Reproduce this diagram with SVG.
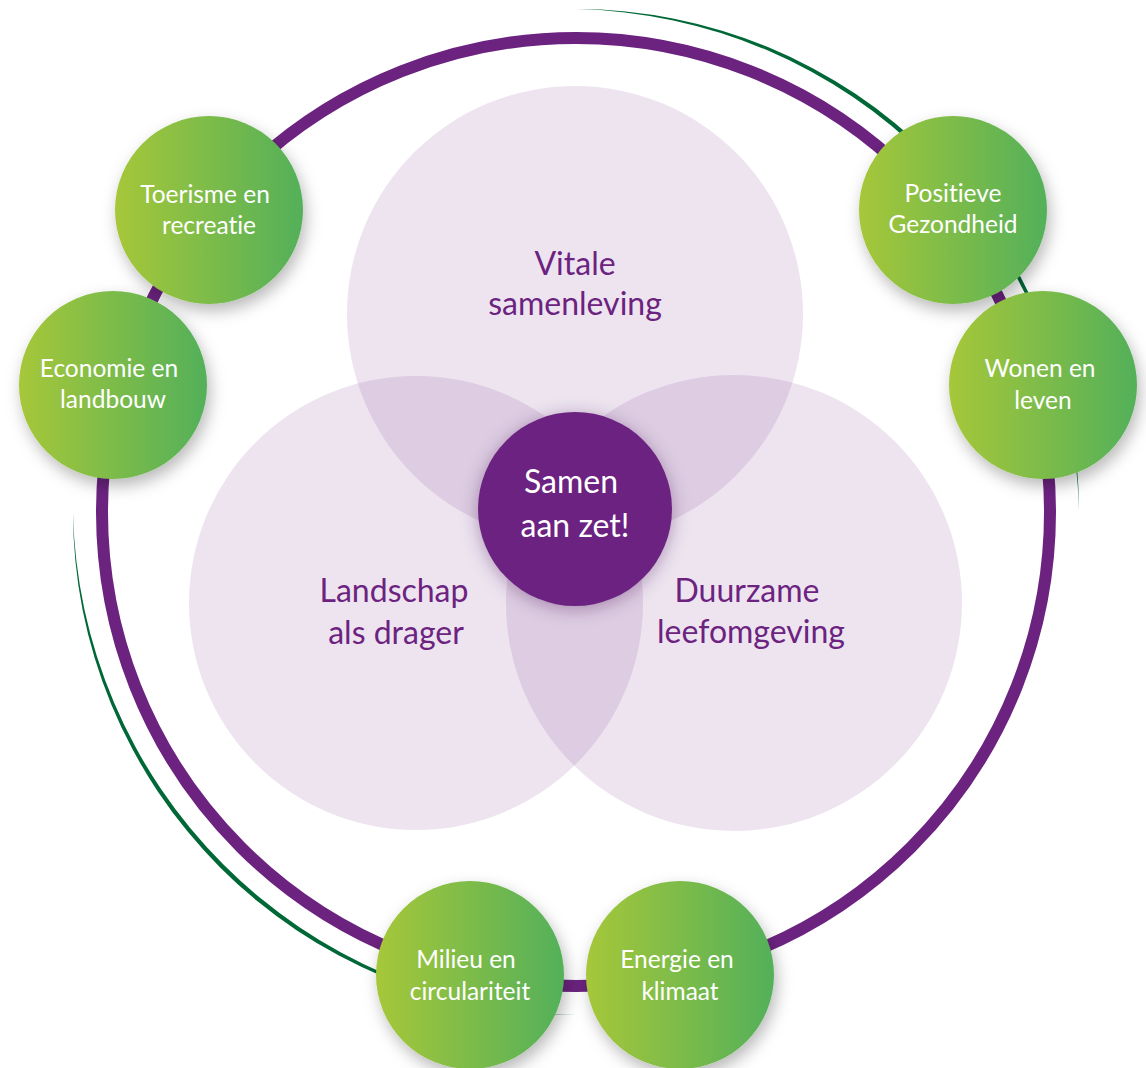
<svg xmlns="http://www.w3.org/2000/svg" width="1146" height="1068" viewBox="0 0 1146 1068">
<defs>
<linearGradient id="g" x1="0" y1="0" x2="1" y2="0">
<stop offset="0" stop-color="#A6C739"/>
<stop offset="1" stop-color="#53B05A"/>
</linearGradient>
<filter id="sh" x="-30%" y="-30%" width="160%" height="170%">
<feDropShadow dx="3" dy="7" stdDeviation="8" flood-color="#000" flood-opacity="0.28"/>
</filter>
<filter id="shc" x="-30%" y="-30%" width="160%" height="160%">
<feDropShadow dx="0" dy="3" stdDeviation="9" flood-color="#3a0f4a" flood-opacity="0.35"/>
</filter>
<style>
.ring{fill:none;stroke:#6C2380;stroke-width:12}
.arc{fill:#006837}
.lc{fill:#6C2380;fill-opacity:0.12}
.gc{fill:url(#g);filter:url(#sh)}
text{font-family:"Lato","Open Sans",sans-serif;text-anchor:middle;font-variant-ligatures:none;font-feature-settings:"liga" 0}
.gt{font-size:24.5px;fill:#fff}
.bt{font-size:32px;fill:#6C2380}
.ct{font-size:32px;fill:#fff}
</style>
</defs>
<rect width="1146" height="1068" fill="#fff"/>
<g id="connectors">
<circle class="ring" cx="576" cy="512" r="474"/>
<path class="arc" d="M576,9 A503,503 0 0 1 1079,512 A514,514 0 0 0 576,9 Z"/>
<path class="arc" d="M73,512 A503,503 0 0 0 576,1015 A514,514 0 0 1 73,512 Z"/>
</g>
<g id="vitale">
<circle class="lc" cx="575" cy="314" r="228"/>
<text class="bt" x="575" y="275">Vitale</text>
<text class="bt" x="575" y="315">samenleving</text>
</g>
<g id="landschap">
<circle class="lc" cx="416" cy="603" r="227"/>
<text class="bt" x="394" y="602">Landschap</text>
<text class="bt" x="396" y="644">als drager</text>
</g>
<g id="duurzaam">
<circle class="lc" cx="734" cy="603" r="228"/>
<text class="bt" x="747" y="602">Duurzame</text>
<text class="bt" x="751" y="643">leefomgeving</text>
</g>
<g id="samen">
<circle cx="575" cy="509" r="97" fill="#6C2380" filter="url(#shc)"/>
<text class="ct" x="571" y="493">Samen</text>
<text class="ct" x="575" y="537">aan zet!</text>
</g>
<g id="toerisme">
<circle class="gc" cx="209" cy="210" r="94"/>
<text class="gt" x="205" y="203">Toerisme en</text>
<text class="gt" x="209" y="234">recreatie</text>
</g>
<g id="economie">
<circle class="gc" cx="113" cy="385" r="94"/>
<text class="gt" x="109" y="377">Economie en</text>
<text class="gt" x="113" y="408">landbouw</text>
</g>
<g id="positieve">
<circle class="gc" cx="953" cy="210" r="94"/>
<text class="gt" x="953" y="202">Positieve</text>
<text class="gt" x="953" y="233">Gezondheid</text>
</g>
<g id="wonen">
<circle class="gc" cx="1043" cy="385" r="94"/>
<text class="gt" x="1040" y="377">Wonen en</text>
<text class="gt" x="1043" y="409">leven</text>
</g>
<g id="milieu">
<circle class="gc" cx="470" cy="975" r="94"/>
<text class="gt" x="466" y="968">Milieu en</text>
<text class="gt" x="470" y="1000">circulariteit</text>
</g>
<g id="energie">
<circle class="gc" cx="680" cy="975" r="94"/>
<text class="gt" x="677" y="968">Energie en</text>
<text class="gt" x="680" y="1000">klimaat</text>
</g>
</svg>
